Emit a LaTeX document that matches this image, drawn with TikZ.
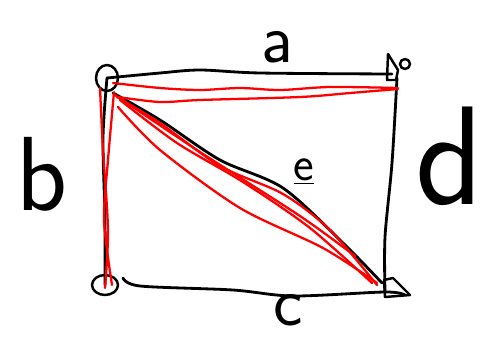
\documentclass[tikz,border=0pt]{standalone}
\usepackage{xcolor}
\usetikzlibrary{calc}

\begin{document}
\begin{tikzpicture}[x=0.02cm, y=-0.02cm,
    every node/.style={font=\sffamily, inner sep=0pt},
    side/.style={draw=black, line width=1.6pt, line cap=round, line join=round},
    redline/.style={draw=red, line width=1.3pt, line cap=round, line join=round},
    cornermark/.style={draw=black, line width=1.4pt, line join=round}]
  \useasboundingbox (0,0) rectangle (496,338);
  % corners of the rectangle
  \coordinate (cornerTL) at (107,78);
  \coordinate (cornerTR) at (392,74);
  \coordinate (cornerBR) at (385,292);
  \coordinate (cornerBL) at (105,285);
  % side labels
  \node (labelA) at (277,47) {\fontsize{40}{40}\selectfont a};
  \node (labelB) at (42,174) {\fontsize{60}{60}\selectfont b};
  \node (labelD) at (450,156) {\fontsize{80}{80}\selectfont d};
  \node (labelC) at (288,310) {\fontsize{40}{40}\selectfont c};
  \node (labelE) at (304,172) {\fontsize{28}{28}\selectfont \underline{e}};
  % black sides and diagonal
  \draw[side] plot[smooth] coordinates {(cornerTL) (160,73) (200,70) (260,73) (cornerTR)};
  \draw[side] plot[smooth] coordinates {(397,78) (392,163) (385,237) (cornerBR)};
  \draw[side] plot[smooth] coordinates {(123,278) (140,286) (233,290) (293,296) (cornerBR) (405,295)};
  \draw[side] plot[smooth] coordinates {(cornerTL) (103,138) (105,220) (cornerBL)};
  \draw[side] plot[smooth] coordinates {(113,93) (160,120) (220,160) (283,188) (343,243) (382,283)};
  % corner scribbles
  \draw[cornermark] (cornerTL) ellipse (11 and 13);
  \draw[cornermark] (387,80) -- (388,54) -- (398,70) -- (396,80) -- cycle;
  \draw[cornermark] (405,64) circle (5);
  \draw[cornermark] (cornerBL) ellipse (13 and 10);
  \draw[cornermark] (384,280) -- (393,278) -- (410,295) -- (385,297) -- cycle;
  % red strokes: left side
  \draw[redline] plot[smooth] coordinates {(100,88) (103,150) (108,230) (105,288)};
  \draw[redline] plot[smooth] coordinates {(114,92) (108,160) (104,220) (112,285)};
  % red strokes: top side
  \draw[redline] plot[smooth] coordinates {(113,83) (160,88) (200,90) (240,88) (280,90) (330,87) (398,88)};
  \draw[redline] plot[smooth] coordinates {(118,97) (160,102) (200,100) (300,97) (350,93) (398,89)};
  % red strokes: diagonal
  \draw[redline] plot[smooth] coordinates {(117,97) (160,123) (220,166) (283,194) (330,230) (377,285)};
  \draw[redline] plot[smooth] coordinates {(120,100) (177,143) (243,182) (310,228) (372,283)};
  \draw[redline] plot[smooth] coordinates {(118,107) (160,150) (240,208) (323,248) (377,283)};
  \draw[redline] plot[smooth] coordinates {(115,95) (200,152) (300,216) (355,256)};
\end{tikzpicture}
\end{document}
